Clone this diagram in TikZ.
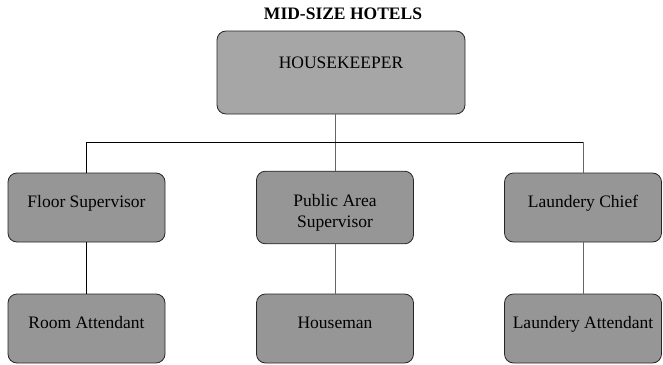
\documentclass[tikz,border=0pt]{standalone}
\usepackage{fontspec}
\setmainfont{Liberation Serif}
\usepackage{tikz}
\usetikzlibrary{calc,positioning}

\begin{document}
\begin{tikzpicture}[x=1pt,y=-1pt,
post/.style={draw=black!85,line width=0.8pt,rounded corners=9pt,fill=black!41,
minimum width=157pt,minimum height=69pt,align=center,
font=\fontsize{17.5}{21}\selectfont,text height=12pt,text depth=13pt},
head/.style={post,fill=black!35,minimum width=248pt,minimum height=83pt,text depth=20pt},
link/.style={line width=0.8pt,draw=#1},link/.default=black]
\useasboundingbox (0,0) rectangle (663,364);
\node (title) at (343,14)[font=\fontsize{17.5}{21}\selectfont\bfseries]{MID-SIZE HOTELS};
\node (hk) at (341,72.5)[head]{HOUSEKEEPER};
\node (fs) at (86.5,207.5)[post]{Floor Supervisor};
\node (pas) at (335,207.5)[post,text height=53pt]{Public Area\\Supervisor};
\node (lc) at (583,207.5)[post]{Laundery Chief};
\node (ra) at (86.5,328.5)[post]{Room Attendant};
\node (hm) at (335,328.5)[post]{Houseman};
\node (la) at (583,328.5)[post]{Laundery Attendant};
\coordinate (bus) at (335,142);
\draw[link=black!60] (hk.south -| pas.north) -- (pas.north);
\draw[link] (fs.north) |- (bus -| lc.north);
\draw[link=black!60] (bus -| lc.north) -- (lc.north);
\draw[link] (fs) -- (ra);
\draw[link=black!60] (pas) -- (hm);
\draw[link=black!60] (lc) -- (la);
\end{tikzpicture}
\end{document}
